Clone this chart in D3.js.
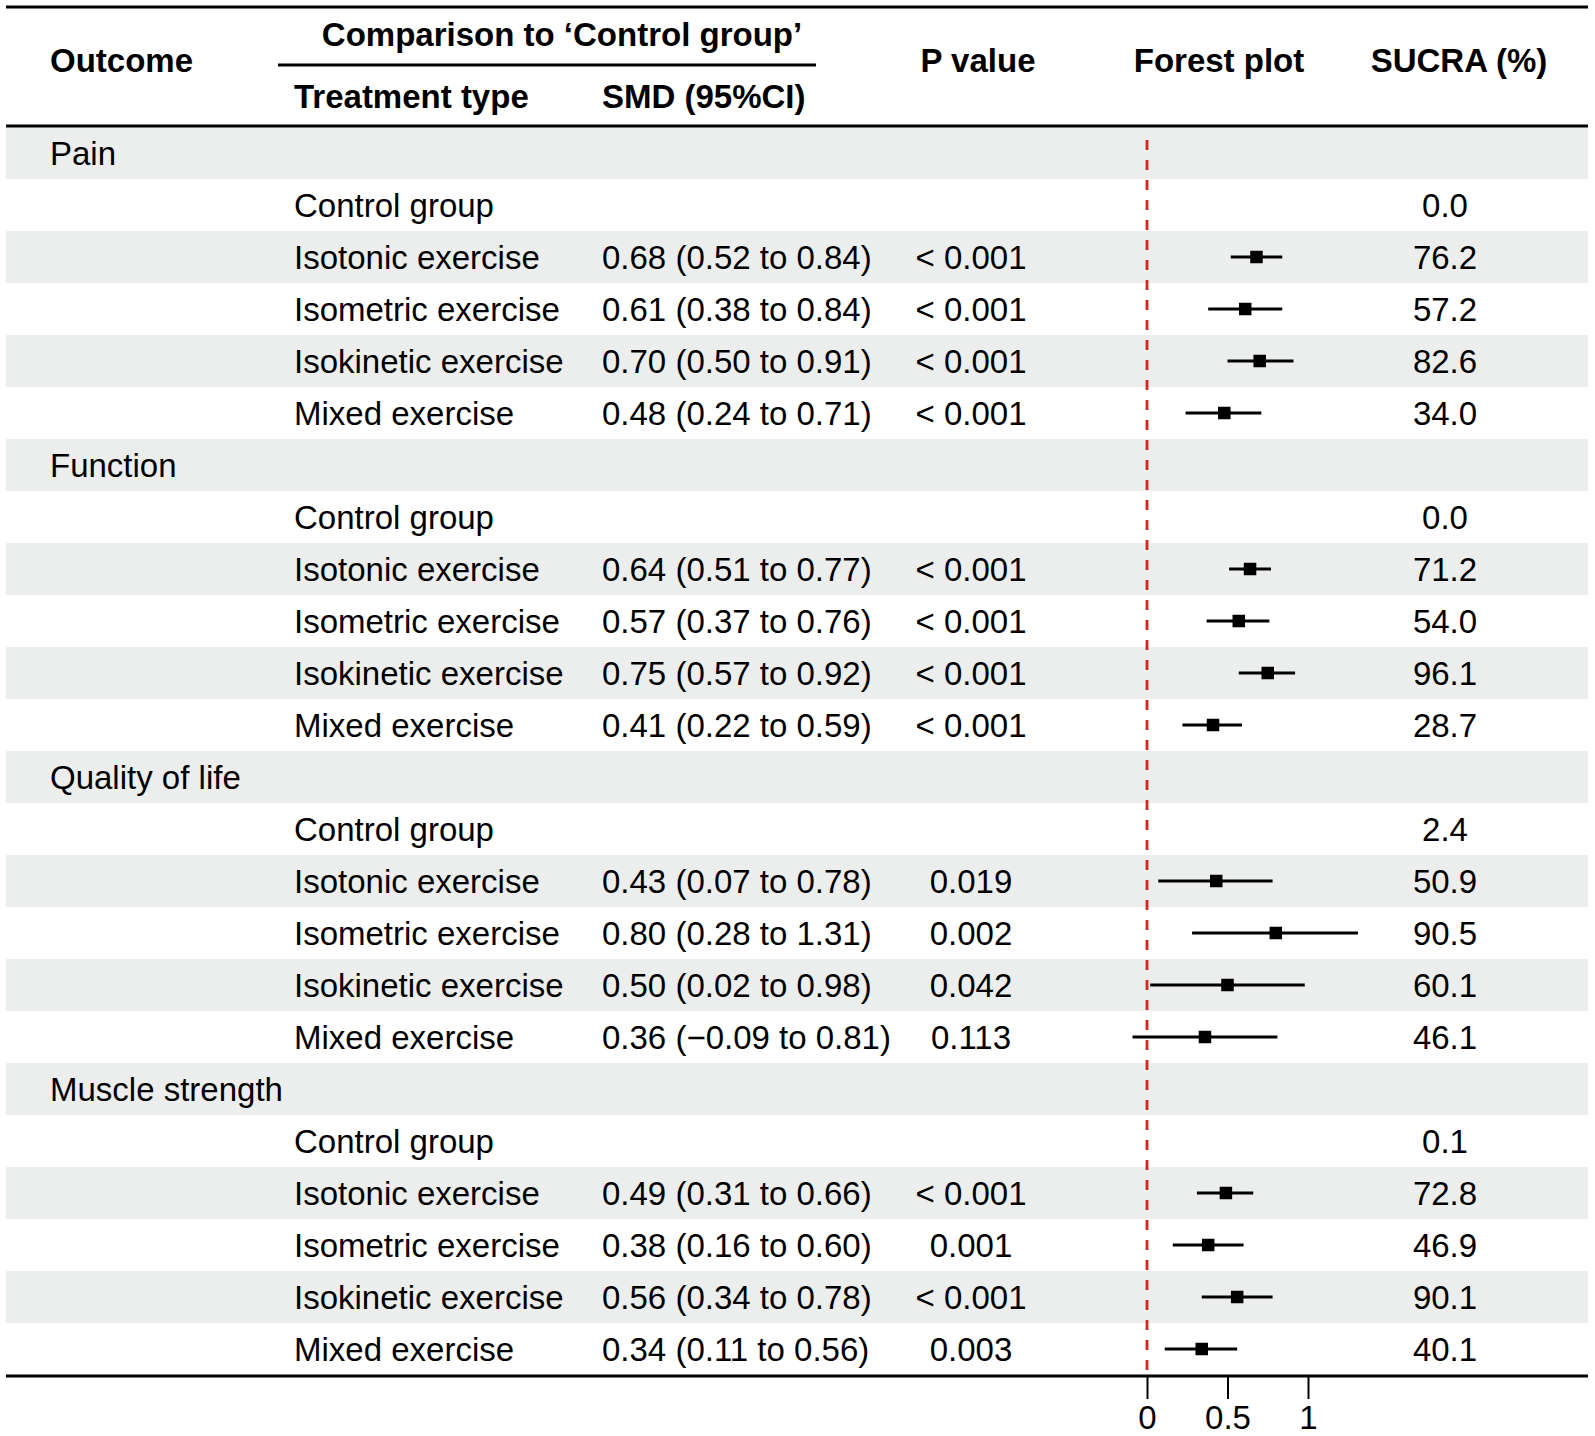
<!DOCTYPE html>
<html>
<head>
<meta charset="utf-8">
<script src="https://cdn.jsdelivr.net/npm/d3@7"></script>
<style>
  html, body { margin: 0; padding: 0; background: #fff; }
  svg { display: block; font-family: "Liberation Sans", Arial, Helvetica, sans-serif; }
</style>
</head>
<body>
<svg id="chart" width="1595" height="1436"></svg>
<script>
// ---------------- data ----------------
const outcomes = ["Pain", "Function", "Quality of life", "Muscle strength"];
const treatments = ["Control group", "Isotonic exercise", "Isometric exercise", "Isokinetic exercise", "Mixed exercise"];
const smdValues = [
  [null, 0.68, 0.61, 0.70, 0.48],
  [null, 0.64, 0.57, 0.75, 0.41],
  [null, 0.43, 0.80, 0.50, 0.36],
  [null, 0.49, 0.38, 0.56, 0.34]
];
const ciLower = [
  [null, 0.52, 0.38, 0.50, 0.24],
  [null, 0.51, 0.37, 0.57, 0.22],
  [null, 0.07, 0.28, 0.02, -0.09],
  [null, 0.31, 0.16, 0.34, 0.11]
];
const ciUpper = [
  [null, 0.84, 0.84, 0.91, 0.71],
  [null, 0.77, 0.76, 0.92, 0.59],
  [null, 0.78, 1.31, 0.98, 0.81],
  [null, 0.66, 0.60, 0.78, 0.56]
];
const pValues = [
  ["", "< 0.001", "< 0.001", "< 0.001", "< 0.001"],
  ["", "< 0.001", "< 0.001", "< 0.001", "< 0.001"],
  ["", "0.019", "0.002", "0.042", "0.113"],
  ["", "< 0.001", "0.001", "< 0.001", "0.003"]
];
const sucra = [
  ["0.0", "76.2", "57.2", "82.6", "34.0"],
  ["0.0", "71.2", "54.0", "96.1", "28.7"],
  ["2.4", "50.9", "90.5", "60.1", "46.1"],
  ["0.1", "72.8", "46.9", "90.1", "40.1"]
];
const axisTicks = [0, 0.5, 1];
const axisTickLabels = ["0", "0.5", "1"];

// ---------------- build rows ----------------
const rows = [];
outcomes.forEach((o, gi) => {
  rows.push({type: "outcome", label: o});
  treatments.forEach((t, ti) => {
    rows.push({
      type: "treat", label: t,
      smd: smdValues[gi][ti], lo: ciLower[gi][ti], hi: ciUpper[gi][ti],
      p: pValues[gi][ti], sucra: sucra[gi][ti]
    });
  });
});

const fmt = v => v.toFixed(2).replace("-", "\u2212");

// ---------------- layout ----------------
const left = 6, right = 1588;
const tableTop = 127, tableBottom = 1375;
const svg = d3.select("#chart");

const y = d3.scaleBand().domain(d3.range(rows.length)).range([tableTop, tableBottom]).paddingInner(0).paddingOuter(0);
const x = d3.scaleLinear().domain([0, 1]).range([1147, 1308]);

const col = {outcome: 50, treat: 294, smd: 602, p: 971, sucra: 1445};
const FS = 33;
const shade = "#eceeed";

// bands
svg.append("g").selectAll("rect")
  .data(rows.map((r, i) => i).filter(i => i % 2 === 0))
  .join("rect")
  .attr("x", left).attr("width", right - left)
  .attr("y", i => y(i)).attr("height", y.bandwidth())
  .attr("fill", shade);

// rules
const rule = (x1, x2, yy, w) => svg.append("line")
  .attr("x1", x1).attr("x2", x2).attr("y1", yy).attr("y2", yy)
  .attr("stroke", "#000").attr("stroke-width", w);
rule(left, right, 7, 3);
rule(278, 816, 65, 3);
rule(left, right, 126, 3);

// header
const hdr = svg.append("g").attr("font-weight", "bold").attr("font-size", FS).attr("fill", "#000");
const htext = (t, xx, yy, anchor) => hdr.append("text").attr("x", xx).attr("y", yy).attr("dy", "0.35em")
  .attr("text-anchor", anchor).text(t);
htext("Outcome", col.outcome, 60, "start");
htext("Comparison to \u2018Control group\u2019", 562, 34, "middle");
htext("Treatment type", col.treat, 96, "start");
htext("SMD (95%CI)", col.smd, 96, "start");
htext("P value", 978, 60, "middle");
htext("Forest plot", 1219, 60, "middle");
htext("SUCRA (%)", 1459, 60, "middle");

// reference line
svg.append("line")
  .attr("x1", x(0)).attr("x2", x(0))
  .attr("y1", tableTop + 13).attr("y2", tableBottom - 3)
  .attr("stroke", "#d9261c").attr("stroke-width", 2.8)
  .attr("stroke-dasharray", "10,10");

// row texts
const body = svg.append("g").attr("font-size", FS).attr("fill", "#000");
const rowG = body.selectAll("g.row").data(rows).join("g")
  .attr("transform", (d, i) => `translate(0,${y(i) + y.bandwidth() / 2})`);

rowG.filter(d => d.type === "outcome").append("text")
  .attr("x", col.outcome).attr("dy", "0.35em").text(d => d.label);

const tr = rowG.filter(d => d.type === "treat");
tr.append("text").attr("x", col.treat).attr("dy", "0.35em").text(d => d.label);
tr.filter(d => d.smd != null).append("text").attr("x", col.smd).attr("dy", "0.35em")
  .text(d => `${fmt(d.smd)} (${fmt(d.lo)} to ${fmt(d.hi)})`);
tr.append("text").attr("x", col.p).attr("dy", "0.35em").attr("text-anchor", "middle").text(d => d.p);
tr.append("text").attr("x", col.sucra).attr("dy", "0.35em").attr("text-anchor", "middle").text(d => d.sucra);

// forest marks
const fm = tr.filter(d => d.smd != null);
fm.append("line")
  .attr("x1", d => x(d.lo)).attr("x2", d => x(d.hi))
  .attr("stroke", "#000").attr("stroke-width", 2.8);
const sq = 12.5;
fm.append("rect")
  .attr("x", d => x(d.smd) - sq / 2).attr("y", -sq / 2)
  .attr("width", sq).attr("height", sq).attr("fill", "#000");

// bottom rule + axis
rule(left, right, 1376, 3);
const axis = d3.axisBottom(x).tickValues(axisTicks).tickSize(22).tickPadding(7)
  .tickFormat((d, i) => axisTickLabels[i]);
const ag = svg.append("g").attr("transform", "translate(0,1377)").call(axis);
ag.select(".domain").remove();
ag.selectAll(".tick line").attr("stroke", "#000").attr("stroke-width", 2);
ag.selectAll(".tick text").attr("font-size", FS).attr("fill", "#000")
  .attr("font-family", "'Liberation Sans', Arial, Helvetica, sans-serif");
</script>
</body>
</html>
